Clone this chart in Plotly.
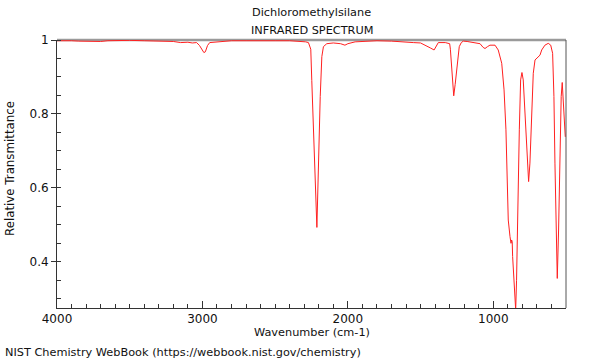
import plotly.graph_objects as go

# Spectrum data (wavenumber cm-1, relative transmittance)
wavenumber = [
    4000, 3950, 3900, 3850, 3800, 3750, 3700, 3650, 3600, 3500, 3400, 3300, 3200,
    3150, 3100, 3070, 3040, 3020, 3000, 2990, 2980, 2965, 2950, 2920, 2900, 2800,
    2700, 2600, 2500, 2400, 2320, 2290, 2271, 2255, 2248, 2213, 2190, 2179, 2168,
    2145, 2100, 2050, 2020, 2000, 1950, 1900, 1800, 1700, 1650, 1600, 1550, 1500,
    1460, 1430, 1407, 1390, 1378, 1330, 1309, 1300, 1295, 1285, 1276, 1272, 1262,
    1251, 1242, 1234, 1220, 1206, 1180, 1120, 1091, 1070, 1057, 1040, 1023, 988,
    966, 942, 926, 913, 904, 897, 885, 878, 874, 870, 867, 851, 846, 840, 835,
    821, 812, 803, 794, 782, 770, 757, 748, 736, 725, 713, 698, 679, 667, 645,
    622, 605, 592, 583, 576, 569, 560, 551, 542, 533, 526, 515, 505,
]
transmittance = [
    0.998, 0.999, 0.998, 0.997, 0.996, 0.997, 0.996, 0.998, 0.999, 0.999, 0.998, 0.997, 0.996,
    0.993, 0.994, 0.992, 0.993, 0.985, 0.970, 0.966, 0.968, 0.985, 0.993, 0.994, 0.996, 0.998,
    0.998, 0.999, 0.998, 0.998, 0.997, 0.995, 0.993, 0.975, 0.890, 0.493, 0.847, 0.955, 0.982,
    0.990, 0.992, 0.990, 0.986, 0.990, 0.995, 0.996, 0.998, 0.997, 0.995, 0.994, 0.993, 0.992,
    0.985, 0.978, 0.973, 0.985, 0.993, 0.993, 0.992, 0.990, 0.975, 0.910, 0.850, 0.849, 0.880,
    0.919, 0.960, 0.982, 0.993, 0.997, 0.996, 0.993, 0.990, 0.980, 0.977, 0.982, 0.986, 0.986,
    0.973, 0.937, 0.865, 0.757, 0.621, 0.513, 0.468, 0.450, 0.459, 0.455, 0.414, 0.324, 0.270, 0.350, 0.486,
    0.757, 0.892, 0.912, 0.892, 0.800, 0.693, 0.617, 0.667, 0.800, 0.910, 0.946, 0.953, 0.959, 0.973, 0.986,
    0.991, 0.986, 0.964, 0.847, 0.667, 0.486, 0.355, 0.486, 0.711, 0.847, 0.885, 0.800, 0.738,
]

x_tickvals = [4000, 3000, 2000, 1000]
x_ticktext = ["4000", "3000", "2000", "1000"]
y_tickvals = [0.4, 0.6, 0.8, 1.0]
y_ticktext = ["0.4", "0.6", "0.8", "1"]

FONT = "DejaVu Sans"

fig = go.Figure()
fig.add_trace(go.Scatter(
    x=wavenumber, y=transmittance, mode="lines",
    line=dict(color="#ff2020", width=1), hoverinfo="skip", showlegend=False,
))

fig.update_layout(
    width=600, height=360, autosize=False,
    margin=dict(l=57, r=34, t=40, b=52),
    paper_bgcolor="white", plot_bgcolor="white",
    font=dict(family=FONT, size=12, color="#111"),
    showlegend=False,
)

fig.update_xaxes(
    range=[4000, 500], showgrid=False, zeroline=False,
    showline=True, linecolor="#333", linewidth=1,
    tickmode="array", tickvals=x_tickvals, ticktext=x_ticktext,
    ticks="inside", ticklen=7, tickcolor="#333", tickwidth=1,
    minor=dict(dtick=100, ticks="inside", ticklen=4, tickcolor="#333", tickwidth=1, showgrid=False),
    tickfont=dict(family=FONT, size=12, color="#111"),
)
fig.update_yaxes(
    range=[0.275, 1.0], showgrid=False, zeroline=False,
    showline=True, linecolor="#333", linewidth=1,
    tickmode="array", tickvals=y_tickvals, ticktext=y_ticktext,
    ticks="outside", ticklen=5, tickcolor="#333", tickwidth=1,
    minor=dict(dtick=0.05, tick0=0, ticks="inside", ticklen=4, tickcolor="#333", tickwidth=1, showgrid=False),
    tickfont=dict(family=FONT, size=12, color="#111"),
)

# top and right frame lines
fig.add_shape(type="line", xref="paper", yref="paper", x0=0, x1=1, y0=1, y1=1,
              line=dict(color="#9a9a9a", width=2.5), layer="below")
fig.add_shape(type="line", xref="paper", yref="paper", x0=1, x1=1, y0=0, y1=1,
              line=dict(color="#555", width=1))

ann = dict(xref="paper", yref="paper", showarrow=False)
small = dict(family=FONT, size=11.3, color="#111")
fig.add_annotation(text="Dichloromethylsilane", x=0.5, y=(308 - 13) / 268, xanchor="center", yanchor="middle", font=small, **ann)
fig.add_annotation(text="INFRARED SPECTRUM", x=0.5, y=(308 - 30) / 268, xanchor="center", yanchor="middle", font=small, **ann)
fig.add_annotation(text="Wavenumber (cm-1)", x=0.5, y=(308 - 332) / 268, xanchor="center", yanchor="middle", font=small, **ann)
fig.add_annotation(text="Relative Transmittance", x=(10 - 57) / 509, y=(308 - 169) / 268,
                   xanchor="center", yanchor="middle", textangle=-90,
                   font=dict(family=FONT, size=11.8, color="#111"), **ann)
fig.add_annotation(text="NIST Chemistry WebBook (https://webbook.nist.gov/chemistry)",
                   x=(3 - 57) / 509, y=(308 - 352) / 268, xanchor="left", yanchor="middle", font=small, **ann)

# remove the default page margin so the 600x360 figure fills the window exactly
fig.write_html(
    "out.html",
    config={"displayModeBar": False, "staticPlot": True},
    post_script="document.body.style.margin='0';document.body.style.padding='0';",
)
